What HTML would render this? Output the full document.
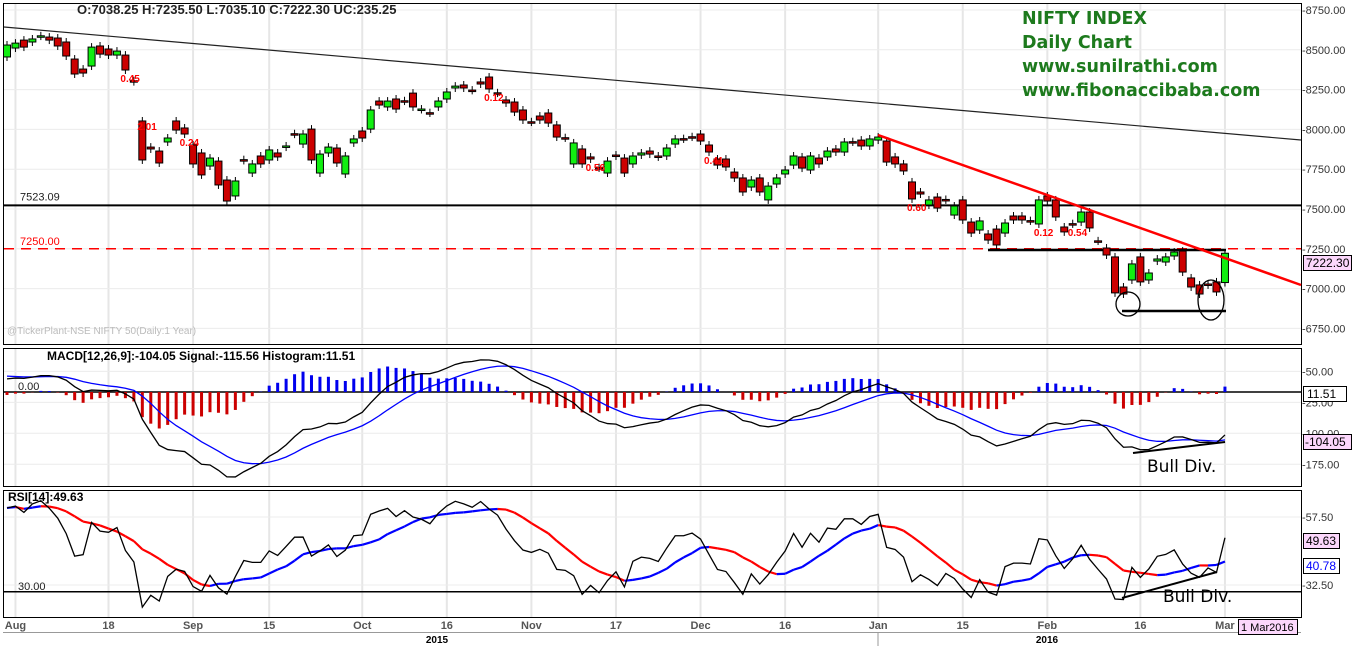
<!DOCTYPE html>
<html><head><meta charset="utf-8">
<style>
body{margin:0;background:#fff;width:1353px;height:649px;overflow:hidden;font-family:"Liberation Sans",sans-serif}
svg{display:block}
</style></head>
<body>
<svg id="c" width="1353" height="649" xmlns="http://www.w3.org/2000/svg"></svg>
<script>
const opens=[8455,8511,8561,8549,8586,8580,8574,8549,8442,8379,8398,8524,8505,8467,8467,8306,8053,7889,7864,7921,8053,8009,7902,7852,7770,7801,7682,7582,7810,7726,7833,7808,7852,7889,7973,7908,8002,7726,7852,7883,7720,7915,7990,8002,8178,8141,8191,8180,8228,8125,8105,8141,8191,8260,8279,8247,8298,8329,8230,8185,8172,8122,8048,8084,8103,8028,7948,7783,7877,7827,7760,7726,7839,7820,7783,7839,7864,7833,7833,7908,7942,7954,7971,7902,7814,7814,7732,7695,7638,7695,7557,7657,7720,7776,7827,7745,7820,7827,7877,7858,7923,7933,7896,7933,7927,7827,7783,7670,7607,7525,7575,7560,7462,7557,7418,7368,7343,7374,7349,7456,7456,7427,7406,7582,7557,7387,7408,7418,7481,7300,7255,7199,7010,7054,7199,7054,7173,7167,7205,7236,7067,7023,7029,7042,7038];
const closes=[8530,8542,8517,8568,8588,8561,8524,8461,8348,8354,8517,8473,8467,8492,8373,8300,7808,7877,7789,7946,7996,7971,7783,7714,7820,7651,7550,7676,7805,7783,7783,7871,7827,7896,7970,7971,7808,7845,7889,7789,7833,7940,7946,8122,8153,8178,8128,8178,8141,8128,8103,8178,8235,8272,8260,8245,8285,8254,8228,8166,8109,8059,8046,8059,8040,7952,7946,7915,7783,7814,7758,7801,7833,7726,7833,7852,7845,7827,7883,7940,7940,7952,7927,7858,7776,7764,7695,7607,7682,7607,7644,7695,7745,7833,7757,7833,7783,7864,7858,7921,7921,7896,7940,7952,7795,7783,7739,7563,7594,7557,7506,7557,7519,7431,7349,7425,7305,7274,7412,7431,7431,7425,7557,7550,7450,7356,7406,7481,7381,7299,7211,6973,6966,7155,7042,7098,7186,7199,7230,7104,7010,6966,7023,6979,7222];
const dateLabels=["Aug","18","Sep","15","Oct","16","Nov","17","Dec","16","Jan","15","Feb","16","Mar"];
const dateIdx=[1,12,22,31,42,52,62,72,82,92,103,113,123,134,144];
const priceTicks=[8750,8500,8250,8000,7750,7500,7250,7000,6750];
const flagLabels=["0.45","2.01","0.24","0.12","0.56","0.41","0.60","0.12","0.54"];
const flagIdx=[14,16,21,57,69,83,107,122,126];

const S=document.getElementById('c');const NS='http://www.w3.org/2000/svg';
function mk(t,a,p){const e=document.createElementNS(NS,t);for(const k in a)e.setAttribute(k,a[k]);(p||S).appendChild(e);return e;}
function tx(s,x,y,a){const e=mk('text',Object.assign({x:x,y:y,'font-family':'Liberation Sans, sans-serif','font-size':11},a||{}));e.textContent=s;return e;}
const X=i=>7+i*8.458;
const PY=p=>209-(p-7500)*0.1592;
const MY=v=>392-v*0.413;
const HY=v=>392-v*0.45;
const RY=v=>591.8-(v-30)*2.72;

const p1=mk('rect',{x:3.5,y:3.5,width:1298,height:341,fill:'#fff',stroke:'#000'});

const p2=mk('rect',{x:3.5,y:348.5,width:1298,height:138,fill:'#fff',stroke:'#000'});

const p3=mk('rect',{x:3.5,y:490.5,width:1298,height:127,fill:'#fff',stroke:'#000'});


dateIdx.forEach((d,k)=>{const x=X(d);
 [[4,344],[349,486],[491,617]].forEach(r=>mk('line',{x1:x,x2:x,y1:r[0],y2:r[1],stroke:'#e6e6e6','stroke-width':2}));
 const t=tx(dateLabels[k],x,629,{'text-anchor':'middle','font-weight':'bold',fill:'#555'});
 
});
priceTicks.forEach(p=>{const y=PY(p);mk('line',{x1:4,x2:1301,y1:y,y2:y,stroke:'#ececec'});
 const t=tx('-'+p.toFixed(2),1302,y+4,{fill:'#333'});});
[50,-25,-100,-175].forEach(v=>{const y=MY(v);mk('line',{x1:4,x2:1301,y1:y,y2:y,stroke:'#ececec'});tx('-'+Math.abs(v).toFixed(2),1302,y+4,{fill:'#333'});});
[57.5,32.5].forEach(v=>{const y=RY(v);mk('line',{x1:4,x2:1301,y1:y,y2:y,stroke:'#ececec'});tx('-'+v.toFixed(2),1302,y+4,{fill:'#333'});});

mk('line',{x1:4,y1:27,x2:1301,y2:140,stroke:'#222','stroke-width':1.2});
mk('line',{x1:4,y1:PY(7523.09),x2:1301,y2:PY(7523.09),stroke:'#000','stroke-width':2});
tx('7523.09',20,PY(7523.09)-5,{fill:'#222'});
mk('line',{x1:4,y1:PY(7250),x2:1301,y2:PY(7250),stroke:'#f00','stroke-width':1.5,'stroke-dasharray':'10,7'});
tx('7250.00',20,PY(7250)-4,{fill:'#f00'});
mk('line',{x1:988,y1:250,x2:1226,y2:250,stroke:'#000','stroke-width':2.5});
mk('line',{x1:1122,y1:311,x2:1226,y2:311,stroke:'#000','stroke-width':2.5});

const body=mk('g',{});
for(let i=0;i<opens.length;i++){const o=opens[i],c=closes[i],x=X(i);
 const hi=Math.max(o,c)+25,lo=Math.min(o,c)-25;
 mk('line',{x1:x,x2:x,y1:PY(hi),y2:PY(lo),stroke:'#000'},body);
 const t=PY(Math.max(o,c)),b=PY(Math.min(o,c));
 const r=mk('rect',{x:x-3.5,y:t,width:7,height:Math.max(1.5,b-t),fill:c>=o?'#11ee11':'#cc0000',stroke:'#000','stroke-width':1},body);
 
}
mk('line',{x1:878,y1:135,x2:1301,y2:285,stroke:'#f00','stroke-width':2.5});
mk('circle',{cx:1128,cy:304,r:12,fill:'none',stroke:'#000','stroke-width':1.3});
mk('ellipse',{cx:1211,cy:300,rx:13,ry:20,fill:'none',stroke:'#000','stroke-width':1.3});
flagIdx.forEach((d,k)=>{const t=tx(flagLabels[k],X(d)-5,PY(Math.min(opens[d],closes[d]))+ (k==1?-30:12),{fill:'#f00','font-weight':'bold','font-size':10});
 });

const h=tx('O:7038.25  H:7235.50  L:7035.10  C:7222.30  UC:235.25',77,14,{'font-weight':'bold','font-size':13,fill:'#222'});

['NIFTY INDEX','Daily Chart','www.sunilrathi.com','www.fibonaccibaba.com'].forEach((s,k)=>{const t=tx(s,1022,24+k*24,{'font-family':'DejaVu Sans, sans-serif','font-weight':'bold','font-size':17.5,fill:'#1d7a1d'});
 });
tx('@TickerPlant-NSE NIFTY 50(Daily:1 Year)',7,334,{fill:'#bbb','font-size':10});

mk('rect',{x:1303.5,y:255.5,width:48,height:15,fill:'#fcd7fc',stroke:'#000'});
tx('7222.30',1306,267,{fill:'#000','font-size':12});

let e12=8480,e26=8450,sg=40;const macd=[],sig=[],hist=[];
for(let i=0;i<closes.length;i++){e12+= (closes[i]-e12)*2/13;e26+=(closes[i]-e26)*2/27;const m=e12-e26;sg+=(m-sg)*0.2;macd.push(m);sig.push(sg);hist.push(m-sg);}
let ag=28,al=22,prev=8450;const rsi=[];
for(let i=0;i<closes.length;i++){const d=closes[i]-prev;prev=closes[i];ag=(ag*13+Math.max(d,0))/14;al=(al*13+Math.max(-d,0))/14;rsi.push(100-100/(1+ag/al));}
const rma=rsi.map((v,i)=>{const s=rsi.slice(Math.max(0,i-8),i+1);return s.reduce((a,b)=>a+b,0)/s.length;});

mk('line',{x1:4,x2:1301,y1:392,y2:392,stroke:'#000','stroke-width':1.5});
tx('0.00',18,390,{fill:'#222'});
hist.forEach((v,i)=>{const b=mk('rect',{x:X(i)-1.5,y:Math.min(HY(v),392),width:3,height:Math.abs(HY(v)-392),fill:v>=0?'#0000ee':'#cc0000'});
 });
function pl(arr,f,col,w,name){const p=mk('polyline',{points:arr.map((v,i)=>X(i)+','+f(v)).join(' '),fill:'none',stroke:col,'stroke-width':w});
 }
pl(sig,MY,'#0000ff',1.3,'macd-signal-line');
pl(macd,MY,'#000',1.3,'macd-line');
mk('line',{x1:1133,y1:453,x2:1225,y2:442,stroke:'#000','stroke-width':2});
tx('Bull Div.',1147,472,{'font-family':'DejaVu Sans, sans-serif','font-size':17,fill:'#000'});
const mt=tx('MACD[12,26,9]:-104.05 Signal:-115.56 Histogram:11.51',47,360,{'font-weight':'bold','font-size':12});

mk('rect',{x:1303.5,y:386.5,width:43,height:15,fill:'#fff',stroke:'#000'});tx('11.51',1307,398,{'font-size':12});
mk('rect',{x:1303.5,y:434.5,width:48,height:15,fill:'#fcd7fc',stroke:'#000'});tx('-104.05',1305,446,{'font-size':12});

mk('line',{x1:4,x2:1301,y1:RY(30),y2:RY(30),stroke:'#000','stroke-width':1.5});
tx('30.00',18,590,{fill:'#222'});
for(let i=1;i<rma.length;i++){const s=mk('line',{x1:X(i-1),y1:RY(rma[i-1]),x2:X(i),y2:RY(rma[i]),stroke:rma[i]>=rma[i-1]?'#0000ff':'#ff0000','stroke-width':2.2});
 }
pl(rsi,RY,'#000',1.3,'rsi-line');
mk('line',{x1:1122,y1:598,x2:1217,y2:572,stroke:'#000','stroke-width':2});
tx('Bull Div.',1163,602,{'font-family':'DejaVu Sans, sans-serif','font-size':17,fill:'#000'});
const rt=tx('RSI[14]:49.63',8,501,{'font-weight':'bold','font-size':12});

mk('rect',{x:1303.5,y:533.5,width:36,height:15,fill:'#fcd7fc',stroke:'#000'});tx('49.63',1306,545,{'font-size':12});
mk('rect',{x:1303.5,y:558.5,width:36,height:15,fill:'#fff',stroke:'#000'});tx('40.78',1306,570,{'font-size':12,fill:'#00f'});

mk('line',{x1:3,x2:1301,y1:632.5,y2:632.5,stroke:'#999'});
mk('line',{x1:878,x2:878,y1:632,y2:646,stroke:'#999'});
tx('2015',437,643,{'font-weight':'bold','font-size':10,'text-anchor':'middle'});
tx('2016',1047,643,{'font-weight':'bold','font-size':10,'text-anchor':'middle'});
mk('rect',{x:1238.5,y:619.5,width:59,height:15,fill:'#fcd7fc',stroke:'#000'});tx('1 Mar2016',1241,631,{'font-size':11});
</script>
</body></html>
